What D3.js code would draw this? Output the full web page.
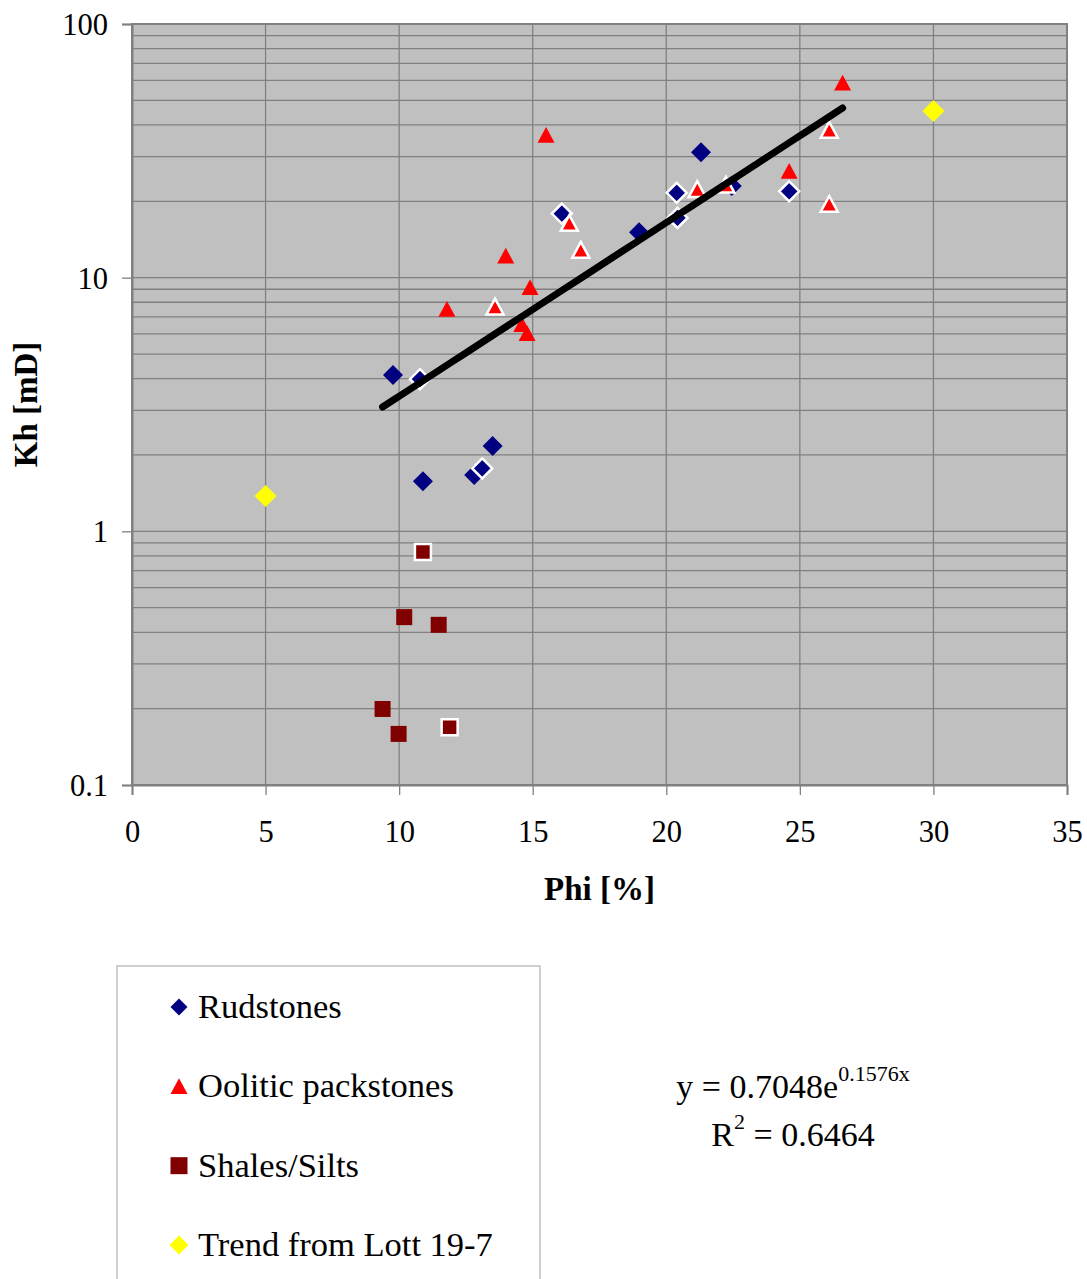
<!DOCTYPE html>
<html>
<head>
<meta charset="utf-8">
<script src="https://cdn.jsdelivr.net/npm/d3@7"></script>
<style>
  html, body { margin: 0; padding: 0; background: #ffffff; }
  svg { display: block; }
</style>
</head>
<body>
<div id="wrapper"></div>
<script>
// Data (Phi in %, Kh in mD)
const rudPhi = [9.77, 10.89, 12.81, 13.5, 18.98, 21.3, 22.45, 10.78, 13.11, 16.09, 20.39, 20.42, 24.6];
const rudKh = [4.13, 1.575, 1.667, 2.17, 15.1, 31.2, 23.0, 3.98, 1.77, 17.9, 21.6, 17.2, 21.9];
const rudOutlined = [0, 0, 0, 0, 0, 0, 0, 1, 1, 1, 1, 1, 1];

const oolPhi = [11.79, 13.99, 14.9, 14.59, 14.79, 15.5, 24.6, 26.6, 13.59, 16.37, 16.8, 21.16, 22.23, 26.1, 26.1];
const oolKh = [7.52, 12.2, 9.16, 6.55, 6.03, 36.5, 26.3, 58.6, 7.68, 16.4, 12.85, 22.3, 23.2, 38.2, 19.5];
const oolOutlined = [0, 0, 0, 0, 0, 0, 0, 0, 1, 1, 1, 1, 1, 1, 1];

const shalePhi = [10.19, 11.48, 9.38, 9.98, 10.89, 11.89];
const shaleKh = [0.459, 0.428, 0.1994, 0.159, 0.829, 0.169];
const shaleOutlined = [0, 0, 0, 0, 1, 1];

const lottPhi = [5, 30];
const lottKh = [1.378, 45.4];

const seriesNames = ["Rudstones", "Oolitic packstones", "Shales/Silts", "Trend from Lott 19-7"];

// exponential trendline y = a e^(b x)
const trendA = 0.7048;
const trendB = 0.1576;
const trendR2 = 0.6464;
const trendRange = [9.38, 26.6];

const xTicks = [0, 5, 10, 15, 20, 25, 30, 35];
const yTicks = [0.1, 1, 10, 100];

const dimension = {
    width: 1087,
    height: 1279,
    margin: { top: 24, left: 132, bottom: 494, right: 20 }
};
dimension.boundedWidth = dimension.width - dimension.margin.left - dimension.margin.right;
dimension.boundedHeight = dimension.height - dimension.margin.top - dimension.margin.bottom;

const serif = "'Liberation Serif', 'Times New Roman', serif";

const wrapper = d3.select("#wrapper")
    .append("svg")
    .attr("width", dimension.width)
    .attr("height", dimension.height);

const xScaler = d3.scaleLinear()
    .domain([0, 35])
    .range([dimension.margin.left, dimension.width - dimension.margin.right]);

const yScaler = d3.scaleLog()
    .domain([0.1, 100])
    .range([dimension.height - dimension.margin.bottom, dimension.margin.top]);

const [x0, x1] = xScaler.range();
const [yB, yT] = yScaler.range();

// plot area
wrapper.append("rect")
    .attr("x", x0)
    .attr("y", yT)
    .attr("width", x1 - x0)
    .attr("height", yB - yT)
    .attr("fill", "#c0c0c0");

// grid
const grid = wrapper.append("g")
    .attr("stroke", "#808080")
    .attr("stroke-width", 1.3);

grid.selectAll(".hgrid")
    .data(yScaler.ticks())
    .enter()
    .append("line")
    .attr("x1", x0)
    .attr("x2", x1)
    .attr("y1", d => yScaler(d))
    .attr("y2", d => yScaler(d));

grid.selectAll(".vgrid")
    .data(xTicks)
    .enter()
    .append("line")
    .attr("x1", d => xScaler(d))
    .attr("x2", d => xScaler(d))
    .attr("y1", yT)
    .attr("y2", yB);

wrapper.append("rect")
    .attr("x", x0)
    .attr("y", yT)
    .attr("width", x1 - x0)
    .attr("height", yB - yT)
    .attr("fill", "none")
    .attr("stroke", "#808080")
    .attr("stroke-width", 2);

// axes
const xAxisGen = d3.axisBottom(xScaler)
    .tickValues(xTicks)
    .tickSize(10)
    .tickPadding(25)
    .tickFormat(d3.format("d"));
const xAxis = wrapper.append("g")
    .attr("transform", `translate(0,${yB})`)
    .call(xAxisGen);

const yAxisGen = d3.axisLeft(yScaler)
    .tickValues(yTicks)
    .tickSize(10)
    .tickPadding(14)
    .tickFormat(d => d < 1 ? "0.1" : d3.format("d")(d));
const yAxis = wrapper.append("g")
    .attr("transform", `translate(${x0},0)`)
    .call(yAxisGen);

[xAxis, yAxis].forEach(ax => {
    ax.attr("font-family", null).attr("font-size", null);
    ax.select(".domain").attr("stroke", "#808080").attr("stroke-width", 2);
    ax.selectAll(".tick line").attr("stroke", "#808080").attr("stroke-width", 1.3);
    ax.selectAll(".tick text")
        .attr("fill", "#000")
        .style("font-family", serif)
        .style("font-size", "30.5px");
});
xAxis.selectAll(".tick text").attr("dy", "0.71em");
yAxis.selectAll(".tick text").attr("dy", "0.34em");

// axis titles
wrapper.append("text")
    .attr("x", (x0 + x1) / 2)
    .attr("y", 900)
    .attr("text-anchor", "middle")
    .style("font-family", serif)
    .style("font-weight", "bold")
    .style("font-size", "33px")
    .text("Phi [%]");

wrapper.append("text")
    .attr("transform", `translate(37,${(yT + yB) / 2}) rotate(-90)`)
    .attr("text-anchor", "middle")
    .style("font-family", serif)
    .style("font-weight", "bold")
    .style("font-size", "33px")
    .text("Kh [mD]");

// marker shapes (Excel style)
const diamond = {
    draw(context, size) {
        const r = Math.sqrt(size) / 2;
        context.moveTo(0, -r);
        context.lineTo(r, 0);
        context.lineTo(0, r);
        context.lineTo(-r, 0);
        context.closePath();
    }
};
const triangle = {
    draw(context, size) {
        const r = Math.sqrt(size) / 2;
        context.moveTo(0, -r * 0.95);
        context.lineTo(r, r * 0.9);
        context.lineTo(-r, r * 0.9);
        context.closePath();
    }
};
const square = {
    draw(context, size) {
        const r = Math.sqrt(size) / 2;
        context.rect(-r, -r, 2 * r, 2 * r);
    }
};

const series = [
    { phi: rudPhi, kh: rudKh, out: rudOutlined, shape: diamond, size: 20 * 20, color: "#000080" },
    { phi: oolPhi, kh: oolKh, out: oolOutlined, shape: triangle, size: 17 * 17, color: "#ff0000" },
    { phi: shalePhi, kh: shaleKh, out: shaleOutlined, shape: square, size: 16 * 16, color: "#800000" },
    { phi: lottPhi, kh: lottKh, out: lottPhi.map(() => 0), shape: diamond, size: 22 * 22, color: "#ffff00" }
];

const markers = wrapper.append("g");
series.forEach(s => {
    const pts = s.phi.map((p, i) => ({ x: p, y: s.kh[i], o: s.out[i] }));
    markers.append("g")
        .selectAll("path")
        .data(pts)
        .enter()
        .append("path")
        .attr("transform", d => `translate(${xScaler(d.x)},${yScaler(d.y)})`)
        .attr("d", d3.symbol().type(s.shape).size(s.size))
        .attr("fill", s.color)
        .attr("stroke", d => d.o ? "#ffffff" : "none")
        .attr("stroke-width", 2.5)
        .attr("stroke-linejoin", "miter");
});

// trendline
const trendPts = d3.range(trendRange[0], trendRange[1] + 0.001, (trendRange[1] - trendRange[0]) / 40)
    .map(x => [x, trendA * Math.exp(trendB * x)]);
wrapper.append("path")
    .datum(trendPts)
    .attr("d", d3.line().x(d => xScaler(d[0])).y(d => yScaler(d[1])))
    .attr("fill", "none")
    .attr("stroke", "#000")
    .attr("stroke-width", 7)
    .attr("stroke-linecap", "round");

// legend
const legend = wrapper.append("g");
legend.append("rect")
    .attr("x", 117)
    .attr("y", 966)
    .attr("width", 423)
    .attr("height", 340)
    .attr("fill", "#fff")
    .attr("stroke", "#c0c0c0")
    .attr("stroke-width", 1.5);

const legendY = d3.scalePoint()
    .domain(seriesNames)
    .range([1007, 1245]);

const legendItems = legend.selectAll(".item")
    .data(seriesNames)
    .enter()
    .append("g")
    .attr("transform", d => `translate(179,${legendY(d)})`);

legendItems.append("path")
    .attr("d", (d, i) => d3.symbol().type(series[i].shape).size(i === 3 ? 19 * 19 : 17 * 17)())
    .attr("fill", (d, i) => series[i].color);

legendItems.append("text")
    .attr("x", 19)
    .attr("y", 11)
    .style("font-family", serif)
    .style("font-size", "34.5px")
    .text(d => d);

// equation label
const eq = wrapper.append("g")
    .style("font-family", serif)
    .style("font-size", "34px")
    .attr("text-anchor", "middle");

const eqLine = eq.append("text")
    .attr("x", 793)
    .attr("y", 1098);
eqLine.append("tspan").text(`y = ${trendA}e`);
eqLine.append("tspan")
    .attr("dy", -17)
    .style("font-size", "22px")
    .text(`${trendB}x`);

const r2Line = eq.append("text")
    .attr("x", 793)
    .attr("y", 1146);
r2Line.append("tspan").text("R");
r2Line.append("tspan")
    .attr("dy", -17)
    .style("font-size", "22px")
    .text("2");
r2Line.append("tspan")
    .attr("dy", 17)
    .text(` = ${trendR2}`);
</script>
</body>
</html>
